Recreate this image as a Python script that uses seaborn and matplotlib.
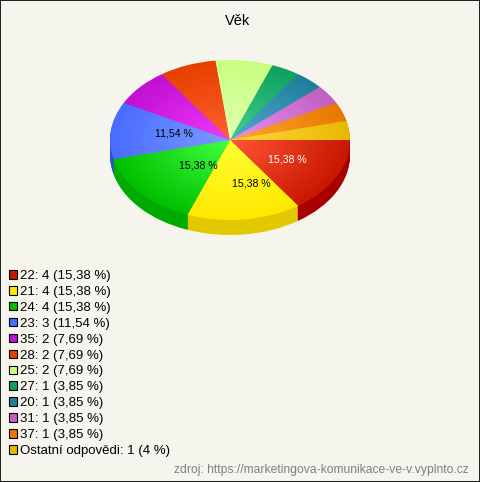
import matplotlib
matplotlib.use("Agg")
import matplotlib.pyplot as plt
from matplotlib.patches import Patch
import seaborn as sns

# answers per age
ages = ["22", "21", "24", "23", "35", "28", "25", "27", "20", "31", "37", "Ostatní odpovědi"]
counts = [4, 4, 4, 3, 2, 2, 2, 1, 1, 1, 1, 1]
percents = ["15,38 %", "15,38 %", "15,38 %", "11,54 %", "7,69 %", "7,69 %", "7,69 %",
            "3,85 %", "3,85 %", "3,85 %", "3,85 %", "4 %"]

# colours: rim of the top face, middle of the top face, side wall
rim_colors = ["#C81800", "#FFE800", "#00C000", "#4A6CFF", "#C010D0", "#E64000",
              "#C8FF80", "#0FA060", "#1F7F9A", "#C060C0", "#E87800", "#E8B800"]
mid_colors = ["#FF5533", "#FFFF33", "#40FF40", "#7A9CFF", "#F038FF", "#FF6030",
              "#E0FFB0", "#40D090", "#50A8D0", "#E890F0", "#FFA830", "#FFD840"]
side_colors = ["#A80000", "#E2C800", "#00AA00", "#2850D0", "#9000A0", "#B83000",
               "#A0D060", "#0A8048", "#156078", "#984898", "#B86000", "#B89000"]

BG = "#F5F5ED"
W, H = 480, 482
CX, CY, RX, RY = 230, 140, 120, 80
DEPTH = 15
LAYERS = 40

sns.set_theme(style="white")
plt.rcParams["font.family"] = ["Liberation Sans", "DejaVu Sans"]

fig = plt.figure(figsize=(W / 100, H / 100), dpi=100, facecolor=BG, edgecolor="#222222", linewidth=1.44)
ax = fig.add_axes([0, 0, 1, 1])

# side wall: the same pie stacked downwards
for d in range(DEPTH, 0, -1):
    ax.pie(counts, colors=side_colors, startangle=0, counterclock=False, radius=1,
           center=(0, -d / RY), wedgeprops={"linewidth": 0})

# top face: shrinking pies going from rim colour to middle colour
ramps = [sns.blend_palette([r, m], LAYERS) for r, m in zip(rim_colors, mid_colors)]
for i in range(LAYERS):
    ax.pie(counts, colors=[ramp[i] for ramp in ramps], startangle=0, counterclock=False,
           radius=1 - i / LAYERS, wedgeprops={"linewidth": 0})

ax.set_aspect("auto")
ax.set_xlim(-CX / RX, (W - CX) / RX)
ax.set_ylim((CY - H) / RY, CY / RY)
ax.axis("off")

# labels only on the big slices (pixel offsets from the pie centre)
label_offsets = [(57, 19), (21, 44), (-32, 26), (-56, -6)]
label_colors = ["white", "black", "black", "black"]
for pct, (dx, dy), col in zip(percents, label_offsets, label_colors):
    ax.text(dx / RX, -dy / RY, pct, ha="center", va="center", fontsize=7.6, color=col)

fig.text(238 / W, 1 - 21 / H, "Věk", ha="center", va="center", fontsize=10.5, color="black")

handles = [Patch(facecolor=c, edgecolor="black", linewidth=0.8) for c in rim_colors]
labels = [f"{a}: {n} ({p})" for a, n, p in zip(ages, counts, percents)]
fig.legend(handles, labels, loc="upper left", bbox_to_anchor=(9 / W, 1 - 270 / H), frameon=False,
           fontsize=9.5, handlelength=0.62, handleheight=0.62, handletextpad=0.22,
           labelspacing=0.296, borderpad=0, borderaxespad=0, labelcolor="black")

fig.text(469 / W, 1 - 470 / H, "zdroj: https://marketingova-komunikace-ve-v.vyplnto.cz",
         ha="right", va="center", fontsize=8.73, color="#808080")

fig.savefig("out.png", dpi=100)
